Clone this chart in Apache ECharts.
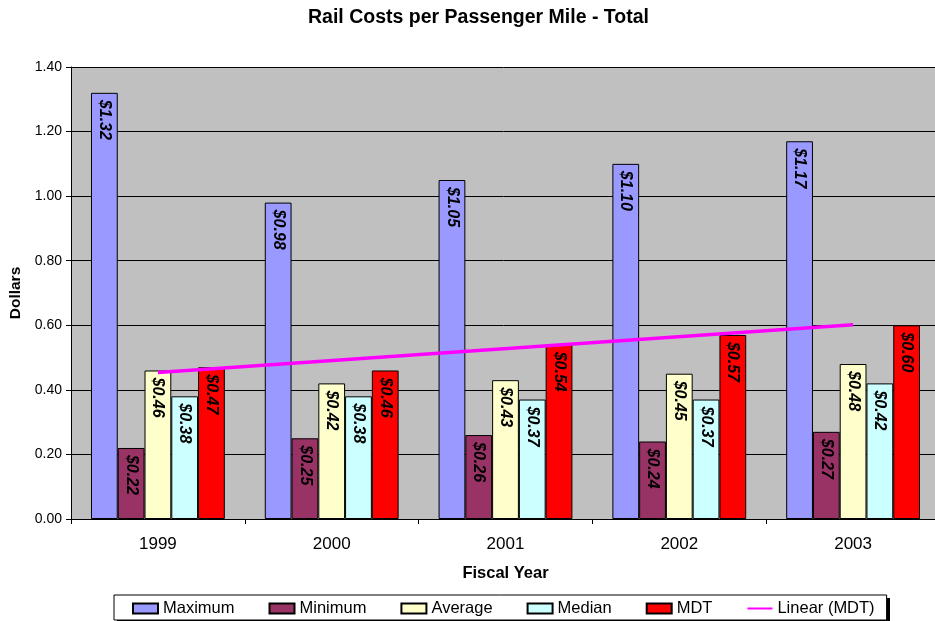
<!DOCTYPE html>
<html>
<head>
<meta charset="utf-8">
<script src="https://cdn.jsdelivr.net/npm/echarts@6/dist/echarts.min.js"></script>
<style>
  html, body { margin: 0; padding: 0; background: #ffffff; }
  #chart { width: 935px; height: 621px; }
</style>
</head>
<body>
<div id="chart"></div>
<script>
// Rail cost per passenger mile, by fiscal year
const years = ['1999', '2000', '2001', '2002', '2003'];
const maximum = [1.32, 0.98, 1.05, 1.10, 1.17];
const minimum = [0.22, 0.25, 0.26, 0.24, 0.27];
const average = [0.46, 0.42, 0.43, 0.45, 0.48];
const median  = [0.38, 0.38, 0.37, 0.37, 0.42];
const mdt     = [0.47, 0.46, 0.54, 0.57, 0.60];
// Linear trend of MDT: start (1999) and end (2003) values
const mdtTrend = [0.454, null, null, null, 0.602];
const yTicks = { min: 0, max: 1.4, step: 0.2 };

const FONT = '"Liberation Sans", Arial, sans-serif';

const barLabel = {
  show: true,
  position: 'insideTop',
  rotate: -90,
  align: 'left',
  verticalAlign: 'middle',
  distance: 7,
  fontFamily: FONT,
  fontSize: 16,
  fontWeight: 'bold',
  fontStyle: 'italic',
  color: '#000000',
  formatter: p => '$' + p.value.toFixed(2)
};

function barSeries(name, data, color) {
  return {
    name: name,
    type: 'bar',
    data: data,
    barGap: '0%',
    barCategoryGap: '23%',
    itemStyle: { color: color, borderColor: '#000000', borderWidth: 1 },
    label: barLabel,
    emphasis: { disabled: true }
  };
}

const chart = echarts.init(document.getElementById('chart'), null, { renderer: 'canvas' });

chart.setOption({
  animation: false,
  backgroundColor: '#ffffff',
  textStyle: { fontFamily: FONT },
  title: {
    text: 'Rail Costs per Passenger Mile - Total',
    left: 303,
    top: 3,
    textStyle: { fontFamily: FONT, fontSize: 19.5, fontWeight: 'bold', color: '#000000' }
  },
  // drop shadow behind the legend box
  graphic: [{
    type: 'rect',
    z: 1,
    silent: true,
    shape: { x: 117, y: 598, width: 773, height: 30 },
    style: { fill: '#000000' }
  }],
  legend: {
    z: 5,
    left: 114,
    top: 595,
    padding: [5, 12, 3, 18],
    itemGap: 34,
    itemWidth: 25,
    itemHeight: 10,
    backgroundColor: '#ffffff',
    borderColor: '#000000',
    borderWidth: 1,
    textStyle: { fontFamily: FONT, fontSize: 16.5, color: '#000000' },
    data: [
      { name: 'Maximum', icon: 'rect' },
      { name: 'Minimum', icon: 'rect' },
      { name: 'Average', icon: 'rect' },
      { name: 'Median', icon: 'rect' },
      { name: 'MDT', icon: 'rect' },
      { name: 'Linear (MDT)', itemStyle: { opacity: 0 } }
    ]
  },
  grid: {
    left: 71,
    top: 67,
    width: 869,
    height: 452,
    show: true,
    backgroundColor: '#c0c0c0',
    borderWidth: 0,
    containLabel: false,
    outerBoundsMode: 'none'
  },
  xAxis: {
    type: 'category',
    data: years,
    name: 'Fiscal Year',
    nameLocation: 'middle',
    nameGap: 46,
    nameTextStyle: { fontFamily: FONT, fontSize: 16.5, fontWeight: 'bold', color: '#000000' },
    axisLine: { lineStyle: { color: '#000000', width: 1 } },
    axisTick: { show: true, length: 5, lineStyle: { color: '#000000' } },
    axisLabel: { fontFamily: FONT, fontSize: 17, color: '#000000', margin: 17 },
    splitLine: { show: false }
  },
  yAxis: {
    type: 'value',
    min: yTicks.min,
    max: yTicks.max,
    interval: yTicks.step,
    name: 'Dollars',
    nameLocation: 'middle',
    nameGap: 45,
    nameTextStyle: { fontFamily: FONT, fontSize: 15.5, fontWeight: 'bold', color: '#000000' },
    axisLine: { show: true, lineStyle: { color: '#000000', width: 1 } },
    axisTick: { show: true, length: 5, lineStyle: { color: '#000000' } },
    axisLabel: {
      fontFamily: FONT, fontSize: 14, color: '#000000', margin: 9,
      formatter: v => v.toFixed(2)
    },
    splitLine: { show: true, lineStyle: { color: '#000000', width: 1 } }
  },
  series: [
    barSeries('Maximum', maximum, '#9999ff'),
    barSeries('Minimum', minimum, '#993366'),
    barSeries('Average', average, '#ffffcc'),
    barSeries('Median', median, '#ccffff'),
    barSeries('MDT', mdt, '#ff0000'),
    {
      name: 'Linear (MDT)',
      type: 'line',
      data: mdtTrend,
      connectNulls: true,
      symbol: 'none',
      lineStyle: { color: '#ff00ff', width: 3.5 },
      itemStyle: { color: '#ff00ff' },
      z: 5,
      emphasis: { disabled: true }
    }
  ]
});
</script>
</body>
</html>
